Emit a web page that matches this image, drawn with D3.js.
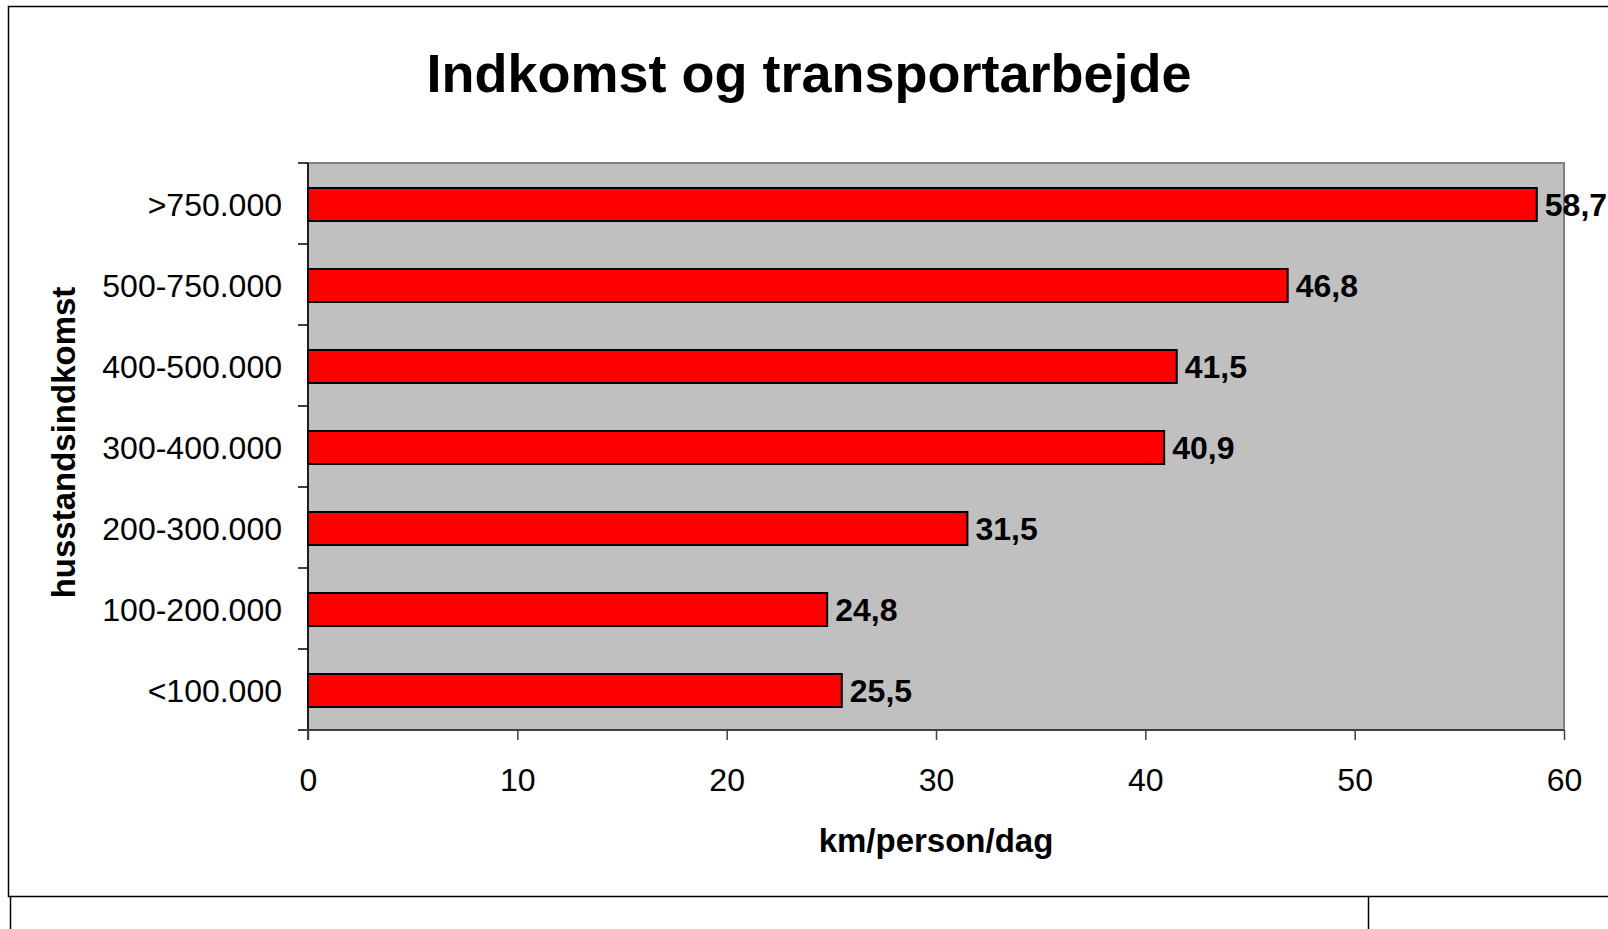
<!DOCTYPE html>
<html>
<head>
<meta charset="utf-8">
<script src="https://cdn.jsdelivr.net/npm/d3@7"></script>
<style>
  body { margin: 0; background: #fff; }
  text { font-family: "Liberation Sans", Arial, sans-serif; fill: #000; }
</style>
</head>
<body>
<script>
var categories = ['>750.000', '500-750.000', '400-500.000', '300-400.000', '200-300.000', '100-200.000', '<100.000'];
var values = [58.7, 46.8, 41.5, 40.9, 31.5, 24.8, 25.5];
var xTicks = [0, 10, 20, 30, 40, 50, 60];

var W = 1608, H = 929;
var plotL = 308, plotT = 163, plotR = 1564, plotB = 730;

var svg = d3.select('body').append('svg')
  .attr('width', W)
  .attr('height', H);

// outer frame (the chart object and the cell below it)
svg.append('path')
  .attr('d', 'M1608,6.5 H8.5 V896.5 H1608 M10.5,897 V929 M1368.5,897 V929')
  .attr('fill', 'none')
  .attr('stroke', '#000')
  .attr('stroke-width', 1.5);

var x = d3.scaleLinear().domain([0, 60]).range([plotL, plotR]);
var y = d3.scaleBand().domain(categories).range([plotT, plotB]);
var barH = 33;

var fmt = d3.formatLocale({ decimal: ',', thousands: '.', grouping: [3], currency: ['', ''] }).format('.1f');

// plot area
svg.append('rect')
  .attr('x', plotL).attr('y', plotT)
  .attr('width', plotR - plotL).attr('height', plotB - plotT)
  .attr('fill', '#c0c0c0')
  .attr('stroke', '#808080')
  .attr('stroke-width', 2);

// bars
svg.append('g').selectAll('rect')
  .data(values)
  .enter().append('rect')
    .attr('x', x(0))
    .attr('y', function(d, i) { return y(categories[i]) + y.bandwidth() / 2 - barH / 2 + 1; })
    .attr('width', function(d) { return x(d) - x(0); })
    .attr('height', barH)
    .attr('fill', '#ff0000')
    .attr('stroke', '#000')
    .attr('stroke-width', 2);

// value labels
svg.append('g').selectAll('text')
  .data(values)
  .enter().append('text')
    .attr('x', function(d) { return x(d) + 8; })
    .attr('y', function(d, i) { return y(categories[i]) + y.bandwidth() / 2 + 1; })
    .attr('dy', '0.36em')
    .style('font-size', '32px')
    .style('font-weight', 'bold')
    .text(function(d) { return fmt(d); });

// y axis: labels at band centres, ticks at band edges
var yAxis = svg.append('g')
  .attr('transform', 'translate(' + plotL + ',0)')
  .call(d3.axisLeft(y).tickSize(0).tickPadding(26));
yAxis.select('.domain').remove();
yAxis.selectAll('text')
  .attr('dy', '0.4em')
  .style('font-size', '32px')
  .style('font-family', '"Liberation Sans", Arial, sans-serif');

var edges = categories.map(function(c) { return y(c); }).concat([plotB]);
svg.append('g').selectAll('line')
  .data(edges)
  .enter().append('line')
    .attr('x1', plotL - 10).attr('x2', plotL)
    .attr('y1', function(d) { return d; })
    .attr('y2', function(d) { return d; })
    .attr('stroke', '#000')
    .attr('stroke-width', 1.5);

svg.append('line')
  .attr('x1', plotL).attr('x2', plotL)
  .attr('y1', plotT).attr('y2', plotB + 10)
  .attr('stroke', '#000')
  .attr('stroke-width', 1.5);

// x axis
var xAxis = svg.append('g')
  .attr('transform', 'translate(0,' + plotB + ')')
  .call(d3.axisBottom(x).tickValues(xTicks).tickSize(10).tickPadding(28).tickFormat(d3.format('d')));
xAxis.select('.domain')
  .attr('d', 'M' + (plotL - 10) + ',0H' + plotR)
  .attr('stroke', '#404040')
  .attr('stroke-width', 2);
xAxis.selectAll('.tick line').attr('stroke', '#404040').attr('stroke-width', 1.5);
xAxis.selectAll('text')
  .style('font-size', '32px')
  .style('font-family', '"Liberation Sans", Arial, sans-serif');

// titles
svg.append('text')
  .attr('x', 809).attr('y', 92)
  .attr('text-anchor', 'middle')
  .style('font-size', '54px')
  .style('font-weight', 'bold')
  .text('Indkomst og transportarbejde');

svg.append('text')
  .attr('x', (plotL + plotR) / 2).attr('y', 852)
  .attr('text-anchor', 'middle')
  .style('font-size', '33px')
  .style('font-weight', 'bold')
  .text('km/person/dag');

svg.append('text')
  .attr('transform', 'translate(75,' + ((plotT + plotB) / 2 - 4) + ') rotate(-90)')
  .attr('text-anchor', 'middle')
  .style('font-size', '33px')
  .style('font-weight', 'bold')
  .text('husstandsindkomst');
</script>
</body>
</html>
